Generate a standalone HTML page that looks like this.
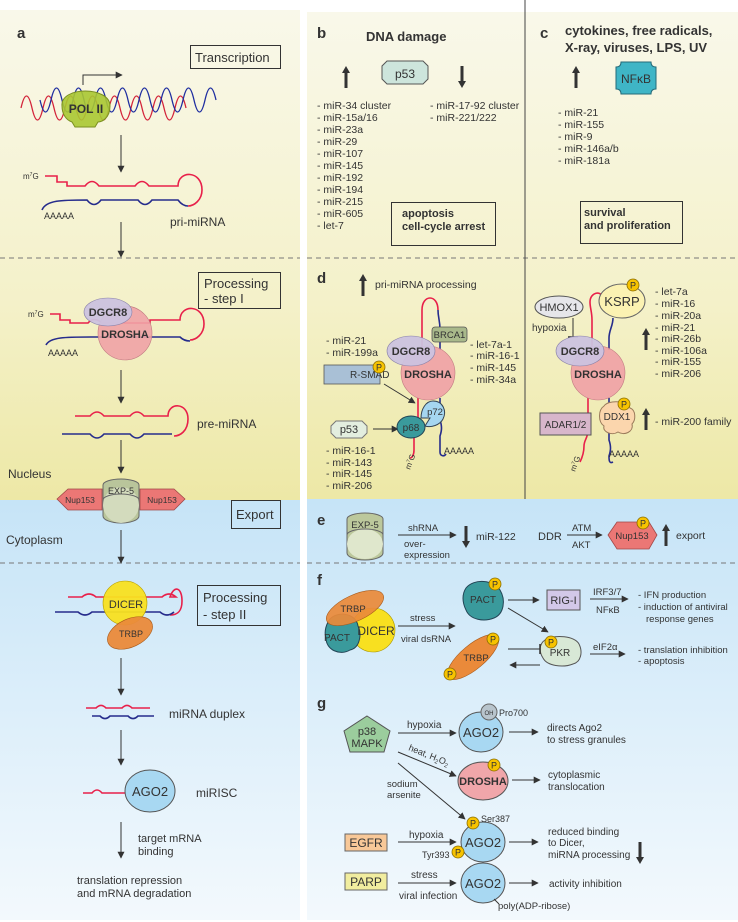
<!DOCTYPE html>
<html><head><meta charset="utf-8"><style>html,body{margin:0;padding:0;background:#fff}svg{display:block}text{font-family:"Liberation Sans",sans-serif;fill:#333}</style></head><body>
<svg width="738" height="922" viewBox="0 0 738 922" xmlns="http://www.w3.org/2000/svg">
<defs>
<linearGradient id="yl" x1="0" y1="0" x2="0" y2="1"><stop offset="0" stop-color="#f9f8ea"/><stop offset="0.6" stop-color="#f4f1c9"/><stop offset="1" stop-color="#ede8a6"/></linearGradient>
<linearGradient id="bl" x1="0" y1="0" x2="0" y2="1"><stop offset="0" stop-color="#c6e4f7"/><stop offset="1" stop-color="#f3f9fd"/></linearGradient>
<marker id="ah" viewBox="0 0 10 10" refX="9" refY="5" markerWidth="7" markerHeight="7" orient="auto" markerUnits="userSpaceOnUse"><path d="M0,0L10,5L0,10z" fill="#333"/></marker>
<marker id="ah2" viewBox="0 0 10 10" refX="9" refY="5" markerWidth="9" markerHeight="9" orient="auto" markerUnits="userSpaceOnUse"><path d="M0,0L10,5L0,10z" fill="#333"/></marker>
<marker id="tb" viewBox="0 0 4 10" refX="2" refY="5" markerWidth="4" markerHeight="12" orient="auto" markerUnits="userSpaceOnUse"><path d="M2,0V10" stroke="#333" stroke-width="1.5"/></marker>
<g id="P"><circle r="6" fill="#f7c300" stroke="#8a6d00" stroke-width="0.8"/><text x="0" y="3.5" font-size="9" text-anchor="middle" fill="#222">P</text></g>
<path id="up" d="M0,-11L4,-4H1.5V11H-1.5V-4H-4z" fill="#333"/>
<path id="dn" d="M0,11L4,4H1.5V-11H-1.5V4H-4z" fill="#333"/>
</defs>
<!-- backgrounds -->
<rect x="0" y="10" width="300" height="490" fill="url(#yl)"/>
<rect x="0" y="500" width="300" height="420" fill="url(#bl)"/>
<rect x="307" y="12" width="431" height="487" fill="url(#yl)"/>
<rect x="307" y="499" width="431" height="421" fill="url(#bl)"/>
<g stroke="#777" stroke-dasharray="5,4" stroke-width="1">
<line x1="0" y1="258" x2="300" y2="258"/><line x1="307" y1="258" x2="738" y2="258"/>
<line x1="0" y1="563" x2="300" y2="563"/><line x1="307" y1="563" x2="738" y2="563"/>
</g>
<line x1="525" y1="0" x2="525" y2="499" stroke="#444" stroke-width="1"/>

<!-- ===== panel a ===== -->
<text x="17" y="38" font-size="15" font-weight="bold" fill="#111">a</text>
<rect x="190.5" y="45.5" width="90" height="23" fill="none" stroke="#333"/>
<text x="195" y="62" font-size="13">Transcription</text>
<path d="M83,85V75H122" fill="none" stroke="#333" stroke-width="1" marker-end="url(#ah)"/>
<path d="M21,108 q5.5,-24 11,0 t11,0 t11,0 t11,0 t11,0 t11,0 t11,0 t11,0 t11,0 t11,0 t11,0 t11,0 t11,0 t11,0 t11,0" fill="none" stroke="#d3243a" stroke-width="1.3"/>
<path d="M40,100 q5.5,24 11,0 t11,0 t11,0 t11,0 t11,0 t11,0 t11,0 t11,0 t11,0 t11,0 t11,0 t11,0 t11,0 t11,0 t11,0 t11,0" fill="none" stroke="#1f2ea0" stroke-width="1.3"/>
<path d="M62,106 C60,86 110,86 110,106 C110,118 102,122 98,122 L95,127 L75,127 L72,122 C66,120 62,114 62,106z" fill="#a8c832" fill-opacity="0.9" stroke="#7a8f20"/>
<text x="86" y="113" font-size="12" font-weight="bold" text-anchor="middle" fill="#222">POL II</text>
<line x1="121" y1="135" x2="121" y2="172" stroke="#333" marker-end="url(#ah)"/>
<text x="23" y="179" font-size="8">m<tspan font-size="5" dy="-3">7</tspan><tspan dy="3">G</tspan></text>
<path d="M45,176 H57 V182 H67 V186 H85 q7,-9 14,0 H135 q7,-9 14,0 H178 c0,-16 24,-16 24,4 c0,10 -8,16 -14,16" fill="none" stroke="#e8204a" stroke-width="1.6"/>
<path d="M42,210 c4,-10 20,-10 45,-10 q7,9 14,0 H138 q7,9 14,0 H178 c3,4 6,6 10,6" fill="none" stroke="#262c8c" stroke-width="1.6"/>
<text x="44" y="219" font-size="9">AAAAA</text>
<text x="170" y="226" font-size="12">pri-miRNA</text>
<line x1="121" y1="222" x2="121" y2="257" stroke="#333" marker-end="url(#ah)"/>

<rect x="198.5" y="272.5" width="82" height="36" fill="none" stroke="#333"/>
<text x="204" y="288" font-size="13">Processing</text>
<text x="204" y="303" font-size="13">- step I</text>
<text x="28" y="317" font-size="8">m<tspan font-size="5" dy="-3">7</tspan><tspan dy="3">G</tspan></text>
<path d="M50,314 H60 V320 H70 V323 H88 q6,-7 14,0 H150 V320 H180 c0,-16 24,-16 24,4 c0,10 -8,16 -14,16" fill="none" stroke="#e8204a" stroke-width="1.6"/>
<path d="M46,345 c4,-8 20,-8 45,-8 H180 c3,3 6,4 10,4" fill="none" stroke="#262c8c" stroke-width="1.6"/>
<circle cx="125" cy="333" r="27" fill="#f0a2a6" fill-opacity="0.9" stroke="#c07a80" stroke-width="0.6"/>
<ellipse cx="108" cy="312" rx="24" ry="14" fill="#cbc2df" fill-opacity="0.95" stroke="#8880a8" stroke-width="0.6"/>
<text x="108" y="316" font-size="11" font-weight="bold" text-anchor="middle" fill="#444">DGCR8</text>
<text x="125" y="338" font-size="11" font-weight="bold" text-anchor="middle" fill="#6a3d44">DROSHA</text>
<text x="48" y="356" font-size="9">AAAAA</text>
<line x1="121" y1="370" x2="121" y2="403" stroke="#333" marker-end="url(#ah)"/>
<path d="M75,416 H90 q7,-8 14,0 H130 q7,-8 14,0 H168 c0,-14 20,-14 20,3 c0,12 -8,17 -14,17" fill="none" stroke="#e8204a" stroke-width="1.6"/>
<path d="M62,434 H90 q7,8 14,0 H130 q7,8 14,0 H172" fill="none" stroke="#262c8c" stroke-width="1.6"/>
<text x="197" y="428" font-size="12">pre-miRNA</text>
<line x1="121" y1="440" x2="121" y2="473" stroke="#333" marker-end="url(#ah)"/>
<text x="8" y="478" font-size="12">Nucleus</text>
<path d="M57,499 L68,489 H102 V510 H68 z" fill="#eb7775" stroke="#a04848" stroke-width="0.8"/>
<path d="M185,499 L174,489 H140 V510 H174 z" fill="#eb7775" stroke="#a04848" stroke-width="0.8"/>
<text x="80" y="503" font-size="8.5" text-anchor="middle" fill="#6a2020">Nup153</text>
<text x="162" y="503" font-size="8.5" text-anchor="middle" fill="#6a2020">Nup153</text>
<path d="M103,485 a18,6 0 0 1 36,0 V516 a18,7 0 0 1 -36,0 z" fill="#b9c59b" stroke="#666"/>
<ellipse cx="121" cy="505" rx="18" ry="18" fill="#d3dbbd" stroke="none"/>
<path d="M103,500 a18,6 0 0 1 36,0" fill="none" stroke="#666"/>
<text x="121" y="494" font-size="9" text-anchor="middle" fill="#444">EXP-5</text>
<rect x="231.5" y="500.5" width="49" height="28" fill="none" stroke="#333"/>
<text x="236" y="519" font-size="13">Export</text>
<text x="6" y="544" font-size="12">Cytoplasm</text>
<line x1="121" y1="530" x2="121" y2="563" stroke="#333" marker-end="url(#ah)"/>

<path d="M68,597 H82 q7,-6 14,0 H162 q7,-6 14,0 H170 c4,-12 12,-10 12,4 c0,10 -4,14 -12,14" fill="none" stroke="#e8204a" stroke-width="1.6"/>
<path d="M55,612 H78 q7,6 14,0 H160 q7,6 14,0" fill="none" stroke="#262c8c" stroke-width="1.6"/>
<circle cx="125" cy="603" r="22" fill="#f8e020" fill-opacity="0.95" stroke="#b8a000" stroke-width="0.6"/>
<ellipse cx="130" cy="633" rx="24" ry="14" transform="rotate(-25 130 633)" fill="#ea8a3a" fill-opacity="0.95" stroke="#a85a1a" stroke-width="0.6"/>
<text x="126" y="608" font-size="11" text-anchor="middle" fill="#555">DICER</text>
<text x="131" y="637" font-size="9" text-anchor="middle" fill="#5a3010">TRBP</text>
<rect x="197.5" y="585.5" width="83" height="40" fill="none" stroke="#333"/>
<text x="203" y="602" font-size="13">Processing</text>
<text x="203" y="619" font-size="13">- step II</text>
<line x1="121" y1="658" x2="121" y2="695" stroke="#333" marker-end="url(#ah)"/>
<path d="M86,708 H96 q5,-5 10,0 H122 q5,-5 10,0 H150" fill="none" stroke="#e8204a" stroke-width="1.6"/>
<path d="M92,716 H100 q5,5 10,0 H128 q5,5 10,0 H154" fill="none" stroke="#262c8c" stroke-width="1.6"/>
<text x="169" y="718" font-size="12">miRNA duplex</text>
<line x1="121" y1="730" x2="121" y2="765" stroke="#333" marker-end="url(#ah)"/>
<path d="M83,793 H92 q5,-6 10,0 H126" fill="none" stroke="#e8204a" stroke-width="1.6"/>
<ellipse cx="150" cy="791" rx="25" ry="21" fill="#a8d8f2" stroke="#555"/>
<text x="150" y="796" font-size="13" text-anchor="middle">AGO2</text>
<text x="196" y="797" font-size="12">miRISC</text>
<line x1="121" y1="822" x2="121" y2="858" stroke="#333" marker-end="url(#ah)"/>
<text x="138" y="842" font-size="11">target mRNA</text>
<text x="138" y="855" font-size="11">binding</text>
<text x="77" y="884" font-size="11">translation repression</text>
<text x="77" y="897" font-size="11">and mRNA degradation</text>

<!-- ===== panel b ===== -->
<text x="317" y="38" font-size="15" font-weight="bold" fill="#111">b</text>
<text x="366" y="41" font-size="13" font-weight="bold">DNA damage</text>
<path d="M387,61 H423 L428,66 V79 L423,84 H387 L382,79 V66z" fill="#cde5dc" stroke="#555"/>
<text x="405" y="78" font-size="12" text-anchor="middle">p53</text>
<use href="#up" x="346" y="77"/>
<use href="#dn" x="462" y="77"/>
<g font-size="10.5">
<text x="317" y="109">- miR-34 cluster</text><text x="317" y="121">- miR-15a/16</text><text x="317" y="133">- miR-23a</text><text x="317" y="145">- miR-29</text><text x="317" y="157">- miR-107</text><text x="317" y="169">- miR-145</text><text x="317" y="181">- miR-192</text><text x="317" y="193">- miR-194</text><text x="317" y="205">- miR-215</text><text x="317" y="217">- miR-605</text><text x="317" y="229">- let-7</text>
<text x="430" y="109">- miR-17-92 cluster</text><text x="430" y="121">- miR-221/222</text>
</g>
<rect x="391.5" y="202.5" width="104" height="43" fill="none" stroke="#333"/>
<text x="402" y="217" font-size="11" font-weight="bold">apoptosis</text>
<text x="402" y="230" font-size="11" font-weight="bold">cell-cycle arrest</text>

<!-- ===== panel c ===== -->
<text x="540" y="38" font-size="15" font-weight="bold" fill="#111">c</text>
<text x="565" y="35" font-size="13" font-weight="bold">cytokines, free radicals,</text>
<text x="565" y="52" font-size="13" font-weight="bold">X-ray, viruses, LPS, UV</text>
<path d="M621,62 H651 q0,5 5,5 V89 q-5,0 -5,5 H621 q0,-5 -5,-5 V67 q5,0 5,-5z" fill="#3fb5c6" stroke="#246a78"/>
<text x="636" y="83" font-size="12" text-anchor="middle">NFκB</text>
<use href="#up" x="576" y="77"/>
<g font-size="10.5">
<text x="558" y="116">- miR-21</text><text x="558" y="128">- miR-155</text><text x="558" y="140">- miR-9</text><text x="558" y="152">- miR-146a/b</text><text x="558" y="164">- miR-181a</text>
</g>
<rect x="580.5" y="201.5" width="102" height="42" fill="none" stroke="#333"/>
<text x="584" y="216" font-size="11" font-weight="bold">survival</text>
<text x="584" y="229" font-size="11" font-weight="bold">and proliferation</text>

<!-- ===== panel d ===== -->
<text x="317" y="283" font-size="15" font-weight="bold" fill="#111">d</text>
<use href="#up" x="363" y="285"/>
<text x="375" y="288" font-size="10.5">pri-miRNA processing</text>
<path d="M422,350 V310 c0,-16 16,-16 16,0" fill="none" stroke="#e8204a" stroke-width="1.6"/>
<path d="M438,310 c0,8 2,10 2,20 V350" fill="none" stroke="#262c8c" stroke-width="1.6"/>
<path d="M418,398 V420 c0,6 -4,10 -4,16 V450 c0,5 -2,8 -4,8" fill="none" stroke="#e8204a" stroke-width="1.6"/>
<path d="M440,398 V420 c2,6 2,10 0,16 V452 c0,4 4,5 6,2" fill="none" stroke="#262c8c" stroke-width="1.6"/>
<circle cx="428" cy="373" r="27" fill="#f0a2a6" fill-opacity="0.92" stroke="#c07a80" stroke-width="0.6"/>
<ellipse cx="411" cy="351" rx="24" ry="15" fill="#cbc2df" fill-opacity="0.95" stroke="#8880a8" stroke-width="0.6"/>
<text x="411" y="355" font-size="11" font-weight="bold" text-anchor="middle" fill="#444">DGCR8</text>
<text x="428" y="378" font-size="11" font-weight="bold" text-anchor="middle" fill="#6a3d44">DROSHA</text>
<rect x="432" y="327" width="35" height="15" rx="3" fill="#a9b98b" stroke="#555" stroke-width="0.8"/>
<text x="449.5" y="338" font-size="9.5" text-anchor="middle">BRCA1</text>
<g font-size="10.5"><text x="326" y="344">- miR-21</text><text x="326" y="356">- miR-199a</text>
<text x="470" y="348">- let-7a-1</text><text x="470" y="359">- miR-16-1</text><text x="470" y="371">- miR-145</text><text x="470" y="383">- miR-34a</text>
<text x="326" y="454">- miR-16-1</text><text x="326" y="466">- miR-143</text><text x="326" y="477">- miR-145</text><text x="326" y="489">- miR-206</text></g>
<rect x="324" y="365" width="56" height="19" fill="#a9c0d6" stroke="#555" stroke-width="0.8"/>
<text x="350" y="378" font-size="10">R-SMAD</text>
<use href="#P" x="379" y="367"/>
<line x1="384" y1="384" x2="415" y2="403" stroke="#333" marker-end="url(#ah)"/>
<path d="M336,421 H362 L367,426 V433 L362,438 H336 L331,433 V426z" fill="#e3eedf" stroke="#777"/>
<text x="349" y="433" font-size="11" text-anchor="middle">p53</text>
<line x1="373" y1="429" x2="398" y2="429" stroke="#333" marker-end="url(#ah)"/>
<ellipse cx="411" cy="427" rx="14" ry="11" fill="#3a9a9c" stroke="#245"/>
<text x="411" y="431" font-size="10" text-anchor="middle" fill="#1d4d50">p68</text>
<path d="M433,401 c10,0 14,10 10,18 c-3,6 -12,9 -18,7 l5,-8 l-9,0 c0,-9 5,-17 12,-17z" fill="#a5d6f0" stroke="#345"/>
<text x="435" y="415" font-size="9.5" text-anchor="middle" fill="#345">p72</text>
<text x="410" y="470" font-size="8" transform="rotate(-70 410 470)">m<tspan font-size="5" dy="-3">7</tspan><tspan dy="3">G</tspan></text>
<text x="444" y="454" font-size="9">AAAAA</text>

<!-- d right -->
<path d="M592,350 V320 c0,-8 -2,-12 -2,-18 c0,-10 12,-12 12,-4" fill="none" stroke="#e8204a" stroke-width="1.6"/>
<path d="M613,318 c0,8 -4,12 -4,20 V350" fill="none" stroke="#262c8c" stroke-width="1.6"/>
<path d="M588,398 V430 c0,8 -4,10 -4,16 c0,6 -2,12 -4,16" fill="none" stroke="#e8204a" stroke-width="1.6"/>
<path d="M609,398 V440 c2,6 2,10 0,16 c0,4 0,8 4,6" fill="none" stroke="#262c8c" stroke-width="1.6"/>
<ellipse cx="559" cy="307" rx="24" ry="11" fill="#e6e6ea" stroke="#555"/>
<text x="559" y="311" font-size="11" text-anchor="middle">HMOX1</text>
<text x="532" y="331" font-size="10">hypoxia</text>
<line x1="573" y1="318" x2="573" y2="337" stroke="#333" marker-end="url(#tb)"/>
<ellipse cx="622" cy="301" rx="23" ry="17" fill="#fbf2b2" stroke="#666"/>
<text x="622" y="306" font-size="13" text-anchor="middle">KSRP</text>
<use href="#P" x="633" y="285"/>
<circle cx="598" cy="373" r="27" fill="#f0a2a6" fill-opacity="0.92" stroke="#c07a80" stroke-width="0.6"/>
<ellipse cx="580" cy="351" rx="24" ry="15" fill="#cbc2df" fill-opacity="0.95" stroke="#8880a8" stroke-width="0.6"/>
<text x="580" y="355" font-size="11" font-weight="bold" text-anchor="middle" fill="#444">DGCR8</text>
<text x="598" y="378" font-size="11" font-weight="bold" text-anchor="middle" fill="#6a3d44">DROSHA</text>
<g font-size="10.5"><text x="655" y="295">- let-7a</text><text x="655" y="307">- miR-16</text><text x="655" y="319">- miR-20a</text><text x="655" y="331">- miR-21</text><text x="655" y="342">- miR-26b</text><text x="655" y="354">- miR-106a</text><text x="655" y="365">- miR-155</text><text x="655" y="377">- miR-206</text>
<text x="655" y="425">- miR-200 family</text></g>
<use href="#up" x="646" y="339"/>
<use href="#up" x="646" y="419"/>
<path d="M604,406 c4,-6 22,-6 26,2 c6,2 6,12 2,16 c2,8 -8,12 -14,8 c-6,4 -16,0 -14,-6 c-6,-4 -6,-16 0,-20z" fill="#fbd6ad" stroke="#9a7a5a"/>
<text x="617" y="420" font-size="10" text-anchor="middle">DDX1</text>
<use href="#P" x="624" y="404"/>
<rect x="540" y="413" width="51" height="22" fill="#d8b6cb" stroke="#555"/>
<text x="565.5" y="428" font-size="10" text-anchor="middle">ADAR1/2</text>
<text x="575" y="472" font-size="8" transform="rotate(-70 575 472)">m<tspan font-size="5" dy="-3">7</tspan><tspan dy="3">G</tspan></text>
<text x="609" y="457" font-size="9">AAAAA</text>

<!-- ===== panel e ===== -->
<text x="317" y="525" font-size="15" font-weight="bold" fill="#111">e</text>
<path d="M347,519 a18,6 0 0 1 36,0 V553 a18,7 0 0 1 -36,0 z" fill="#bcc89c" stroke="#666"/>
<ellipse cx="365" cy="544" rx="18" ry="15" fill="#dfe7cc"/>
<path d="M347,535 a18,6 0 0 1 36,0" fill="none" stroke="#666"/>
<text x="365" y="528" font-size="9.5" text-anchor="middle">EXP-5</text>
<line x1="398" y1="535" x2="456" y2="535" stroke="#333" marker-end="url(#ah)"/>
<text x="408" y="531" font-size="9.5">shRNA</text>
<text x="404" y="547" font-size="9.5">over-</text>
<text x="404" y="558" font-size="9.5">expression</text>
<use href="#dn" x="466" y="537"/>
<text x="476" y="540" font-size="10.5">miR-122</text>
<text x="538" y="540" font-size="11">DDR</text>
<text x="572" y="531" font-size="9.5">ATM</text>
<text x="572" y="548" font-size="9.5">AKT</text>
<line x1="567" y1="535" x2="602" y2="535" stroke="#333" marker-end="url(#ah)"/>
<path d="M608,535 L617,522 H649 L657,535 L649,549 H617z" fill="#eb7775" stroke="#a04848" stroke-width="0.8"/>
<text x="632" y="539" font-size="9.5" text-anchor="middle" fill="#6a2020">Nup153</text>
<use href="#P" x="643" y="523"/>
<use href="#up" x="666" y="535"/>
<text x="676" y="539" font-size="10.5">export</text>

<!-- ===== panel f ===== -->
<text x="317" y="585" font-size="15" font-weight="bold" fill="#111">f</text>
<circle cx="373" cy="630" r="22" fill="#f8e020" stroke="#a89600" stroke-width="0.6"/>
<path d="M328,622 c6,-12 28,-10 30,4 c4,8 2,22 -8,24 c-10,6 -24,0 -24,-12 c-2,-6 0,-12 2,-16z" fill="#3a9a9c" stroke="#245"/>
<ellipse cx="355" cy="608" rx="31" ry="13" transform="rotate(-25 355 608)" fill="#ea8a3a" fill-opacity="0.93" stroke="#a85a1a" stroke-width="0.6"/>
<text x="353" y="612" font-size="9.5" text-anchor="middle" fill="#5a3010">TRBP</text>
<text x="337" y="641" font-size="10" text-anchor="middle" fill="#1d3d40">PACT</text>
<text x="376" y="635" font-size="12" text-anchor="middle" fill="#555">DICER</text>
<line x1="398" y1="626" x2="455" y2="626" stroke="#333" marker-end="url(#ah)"/>
<text x="410" y="621" font-size="9.5">stress</text>
<text x="401" y="642" font-size="9.5">viral dsRNA</text>
<path d="M466,588 c8,-10 28,-8 34,2 c6,10 4,24 -6,28 c-10,4 -24,2 -28,-8 c-4,-8 -4,-16 0,-22z" fill="#3a9a9c" stroke="#245"/>
<text x="483" y="603" font-size="10" text-anchor="middle" fill="#1d3d40">PACT</text>
<use href="#P" x="495" y="584"/>
<line x1="508" y1="600" x2="539" y2="600" stroke="#333" marker-end="url(#ah)"/>
<rect x="547" y="590" width="33" height="20" fill="#d3c8e8" stroke="#555"/>
<text x="563.5" y="604" font-size="11" text-anchor="middle">RIG-I</text>
<text x="593" y="595" font-size="9.5">IRF3/7</text>
<text x="596" y="613" font-size="9.5">NFκB</text>
<line x1="590" y1="599" x2="628" y2="599" stroke="#333" marker-end="url(#ah)"/>
<g font-size="9.5"><text x="638" y="598">- IFN production</text><text x="638" y="610">- induction of antiviral</text><text x="646" y="622">response genes</text>
<text x="638" y="653">- translation inhibition</text><text x="638" y="664">- apoptosis</text></g>
<line x1="508" y1="608" x2="548" y2="632" stroke="#333" marker-end="url(#ah)"/>
<path d="M545,640 c10,-6 30,-4 34,4 c4,8 2,18 -6,20 c-10,4 -26,2 -30,-6 c-4,-6 -4,-14 2,-18z" fill="#d8e8d6" stroke="#555"/>
<text x="560" y="656" font-size="10" text-anchor="middle">PKR</text>
<use href="#P" x="551" y="642"/>
<ellipse cx="473" cy="657" rx="32" ry="12" transform="rotate(-40 473 657)" fill="#ea8a3a" stroke="#a85a1a" stroke-width="0.6"/>
<text x="476" y="661" font-size="9.5" text-anchor="middle" fill="#5a3010">TRBP</text>
<use href="#P" x="493" y="639"/>
<use href="#P" x="450" y="674"/>
<line x1="508" y1="649" x2="540" y2="649" stroke="#333" marker-end="url(#tb)"/>
<line x1="540" y1="665" x2="510" y2="665" stroke="#333" marker-end="url(#ah)"/>
<text x="593" y="650" font-size="9.5">eIF2α</text>
<line x1="590" y1="654" x2="625" y2="654" stroke="#333" marker-end="url(#ah)"/>

<!-- ===== panel g ===== -->
<text x="317" y="708" font-size="15" font-weight="bold" fill="#111">g</text>
<path d="M367,716 L390,731 L384,752 L350,752 L344,731z" fill="#9bcd9d" stroke="#555"/>
<text x="367" y="735" font-size="11" text-anchor="middle">p38</text>
<text x="367" y="747" font-size="11" text-anchor="middle">MAPK</text>
<text x="407" y="728" font-size="10">hypoxia</text>
<line x1="398" y1="733" x2="456" y2="733" stroke="#333" marker-end="url(#ah)"/>
<ellipse cx="481" cy="732" rx="22" ry="20" fill="#a8d8f2" stroke="#555"/>
<text x="481" y="737" font-size="13" text-anchor="middle">AGO2</text>
<circle cx="489" cy="712" r="8" fill="#b8c4cc" stroke="#666"/>
<text x="489" y="715" font-size="6" text-anchor="middle">OH</text>
<text x="499" y="716" font-size="9">Pro700</text>
<line x1="509" y1="732" x2="538" y2="732" stroke="#333" marker-end="url(#ah)"/>
<text x="547" y="731" font-size="10">directs Ago2</text>
<text x="547" y="743" font-size="10">to stress granules</text>
<line x1="398" y1="752" x2="456" y2="776" stroke="#333" marker-end="url(#ah)"/>
<text x="408" y="750" font-size="9" transform="rotate(22 408 750)">heat, H<tspan font-size="6" dy="2">2</tspan><tspan dy="-2">O</tspan><tspan font-size="6" dy="2">2</tspan></text>
<ellipse cx="483" cy="781" rx="25" ry="19" fill="#f0a6aa" stroke="#555"/>
<text x="483" y="785" font-size="11" font-weight="bold" text-anchor="middle" fill="#6a3d44">DROSHA</text>
<use href="#P" x="494" y="765"/>
<line x1="512" y1="780" x2="540" y2="780" stroke="#333" marker-end="url(#ah)"/>
<text x="548" y="778" font-size="10">cytoplasmic</text>
<text x="548" y="790" font-size="10">translocation</text>
<line x1="398" y1="763" x2="465" y2="819" stroke="#333" marker-end="url(#ah)"/>
<text x="387" y="787" font-size="9.5">sodium</text>
<text x="387" y="798" font-size="9.5">arsenite</text>
<ellipse cx="483" cy="842" rx="22" ry="20" fill="#a8d8f2" stroke="#555"/>
<text x="483" y="847" font-size="13" text-anchor="middle">AGO2</text>
<use href="#P" x="473" y="823"/>
<text x="481" y="822" font-size="9">Ser387</text>
<use href="#P" x="458" y="852"/>
<text x="422" y="858" font-size="9">Tyr393</text>
<rect x="345" y="834" width="42" height="17" fill="#f8c898" stroke="#666"/>
<text x="366" y="847" font-size="12" text-anchor="middle">EGFR</text>
<text x="409" y="838" font-size="10">hypoxia</text>
<line x1="398" y1="842" x2="456" y2="842" stroke="#333" marker-end="url(#ah)"/>
<line x1="509" y1="842" x2="538" y2="842" stroke="#333" marker-end="url(#ah)"/>
<text x="548" y="835" font-size="10">reduced binding</text>
<text x="548" y="846" font-size="10">to Dicer,</text>
<text x="548" y="858" font-size="10">miRNA processing</text>
<use href="#dn" x="640" y="853"/>
<rect x="345" y="873" width="42" height="17" fill="#f1ed9f" stroke="#666"/>
<text x="366" y="886" font-size="12" text-anchor="middle">PARP</text>
<text x="411" y="878" font-size="10">stress</text>
<text x="399" y="899" font-size="10">viral infection</text>
<line x1="398" y1="883" x2="456" y2="883" stroke="#333" marker-end="url(#ah)"/>
<ellipse cx="483" cy="883" rx="22" ry="20" fill="#a8d8f2" stroke="#555"/>
<text x="483" y="888" font-size="13" text-anchor="middle">AGO2</text>
<line x1="494" y1="899" x2="499" y2="904" stroke="#333"/>
<text x="498" y="909" font-size="9.5">poly(ADP-ribose)</text>
<line x1="509" y1="883" x2="538" y2="883" stroke="#333" marker-end="url(#ah)"/>
<text x="549" y="887" font-size="10">activity inhibition</text>
</svg>
</body></html>
